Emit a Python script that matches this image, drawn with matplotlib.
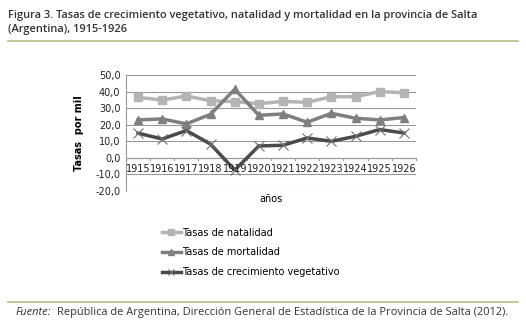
import matplotlib.pyplot as plt
from matplotlib.ticker import FuncFormatter

years = ["1915", "1916", "1917", "1918", "1919", "1920", "1921", "1922", "1923", "1924", "1925", "1926"]
natalidad = [36.5, 34.9, 37.3, 34.5, 33.9, 32.7, 34.1, 33.5, 36.9, 36.9, 40.0, 39.3]
mortalidad = [22.9, 23.5, 20.5, 26.3, 41.4, 25.7, 26.5, 21.5, 26.9, 23.9, 22.9, 24.3]
crecimiento = [14.9, 11.4, 16.5, 8.3, -7.4, 7.2, 7.6, 12.0, 10.0, 13.0, 17.1, 15.0]

fig = plt.figure(figsize=(5.26, 3.3), dpi=100)
ax = fig.add_axes([0.2395, 0.4212, 0.5513, 0.3515])

x = range(len(years))
ax.plot(x, natalidad, color="#b4b4b4", lw=2.5, marker="s", ms=6, label="Tasas de natalidad", zorder=3)
ax.plot(x, mortalidad, color="#7f7f7f", lw=2.5, marker="^", ms=6, label="Tasas de mortalidad", zorder=3)
ax.plot(x, crecimiento, color="#4a4a4a", lw=2.5, marker="x", ms=7, mew=0.8, mec="#707070",
        label="Tasas de crecimiento vegetativo", zorder=3)

ax.set_xlim(-0.5, len(years) - 0.5)
ax.set_ylim(-20, 50)
ax.set_yticks(range(-20, 51, 10))
ax.yaxis.set_major_formatter(FuncFormatter(lambda v, p: f"{v:.1f}".replace(".", ",")))
ax.grid(axis="y", color="#999999", lw=0.8)
ax.set_axisbelow(True)

for s in ["top", "right", "bottom"]:
    ax.spines[s].set_visible(False)
ax.spines["left"].set_color("#999999")
ax.axhline(0, color="#999999", lw=0.8, zorder=1)

ax.set_xticks([])
for i, yr in enumerate(years):
    ax.text(i, -3.5, yr, ha="center", va="top", fontsize=7, color="#222222")
for b in range(len(years) + 1):
    ax.plot([b - 0.5, b - 0.5], [0, -1.3], color="#999999", lw=0.8, clip_on=False)

ax.tick_params(axis="y", length=0, labelsize=7, colors="#222222", pad=4)
ax.set_ylabel("Tasas  por mil", fontsize=7, fontweight="bold", labelpad=8)
ax.set_xlabel("años", fontsize=7, labelpad=2)

fig.legend(loc="upper left", bbox_to_anchor=(0.30, 0.322), frameon=False, fontsize=7,
           handlelength=2.0, handletextpad=0.1, labelspacing=1.0, borderaxespad=0,
           markerscale=0.7)

fig.text(0.015, 0.97, "Figura 3. Tasas de crecimiento vegetativo, natalidad y mortalidad en la provincia de Salta\n(Argentina), 1915-1926",
         ha="left", va="top", fontsize=7.9, fontfamily="Open Sans", fontweight="semibold",
         color="#333333", linespacing=1.4)
fig.add_artist(plt.Line2D([0.015, 0.985], [0.875, 0.875], color="#b7bd8a", lw=1.2))
fig.add_artist(plt.Line2D([0.015, 0.985], [0.085, 0.085], color="#b7bd8a", lw=1.2))
fig.text(0.03, 0.052, "Fuente:", ha="left", va="center", fontsize=7.9, fontfamily="Open Sans",
         style="italic", color="#333333")
fig.text(0.109, 0.052, "República de Argentina, Dirección General de Estadística de la Provincia de Salta (2012).",
         ha="left", va="center", fontsize=7.9, fontfamily="Open Sans", color="#333333")

fig.savefig("out.png", dpi=100)
